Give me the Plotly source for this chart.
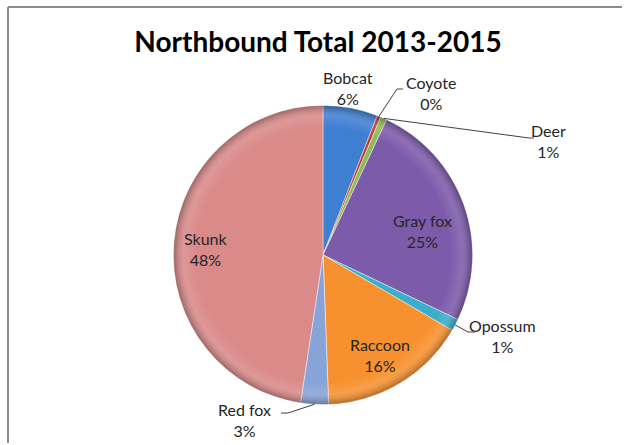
import base64
import math
import plotly.graph_objects as go

# Northbound roadkill totals, 2013-2015 (share of all records, %)
species = ["Bobcat", "Coyote", "Deer", "Gray fox", "Opossum", "Raccoon", "Red fox", "Skunk"]
shares = [5.9, 0.4, 0.7, 25.1, 1.3, 16.0, 3.0, 47.6]
colors = ["#3f7fd2", "#c0392f", "#8fba55", "#7d5bab", "#3aaecb", "#f7912f", "#87a3d8", "#d98a89"]

W, H = 624, 445
CX, CY, R = 323.0, 255.0, 149.5  # pie centre and radius in pixels

# label block centres (pixels) and leader-line bends for the outside labels
label_xy = {
    "Bobcat": (348, 88), "Coyote": (431, 93), "Deer": (548, 141),
    "Gray fox": (422, 231), "Opossum": (502, 336), "Raccoon": (380, 355),
    "Red fox": (244, 420), "Skunk": (206, 249),
}
leader_bends = {
    "Coyote": [(397, 89), (403, 89)],
    "Deer": [(529, 138), (534, 138)],
    "Opossum": [(468, 332), (475, 332)],
    "Red fox": [(288, 413), (281, 413)],
}


def px(x):
    return x / W


def py(y):
    return 1 - y / H


fig = go.Figure(go.Pie(
    labels=species,
    values=shares,
    sort=False,
    direction="clockwise",
    rotation=0,
    marker=dict(colors=colors, line=dict(color="rgba(255,255,255,0.55)", width=0.8)),
    textinfo="none",
    hoverinfo="label+percent",
    domain=dict(x=[px(CX - R), px(CX + R)], y=[py(CY + R), py(CY - R)]),
    showlegend=False,
))

total = sum(shares)
annotations = []
shapes = []
cum = 0.0
for name, v in zip(species, shares):
    mid = (cum + v / 2) / total * 2 * math.pi
    cum += v
    tx, ty = label_xy[name]
    annotations.append(dict(
        x=px(tx), y=py(ty), xref="paper", yref="paper", showarrow=False,
        text=f"{name}<br>{round(v / total * 100)}%",
        font=dict(family="Lato", size=16, color="#262626"),
        xanchor="center", yanchor="middle", align="center",
    ))
    if name in leader_bends:
        ex, ey = CX + R * math.sin(mid), CY - R * math.cos(mid)
        pts = [(ex, ey)] + leader_bends[name]
        path = "M " + " L ".join(f"{px(x)},{py(y)}" for x, y in pts)
        shapes.append(dict(type="path", xref="paper", yref="paper", path=path,
                           line=dict(color="#404040", width=1)))

# chart-area frame: top and left edges, kept inside the page bounds
shapes.append(dict(type="line", xref="paper", yref="paper",
                   x0=px(8), x1=px(622), y0=py(7), y1=py(7),
                   line=dict(color="#8c8c8c", width=2)))
shapes.append(dict(type="line", xref="paper", yref="paper",
                   x0=px(8), x1=px(8), y0=py(7), y1=py(443),
                   line=dict(color="#8c8c8c", width=2)))

# soft bevel shading over the pie
svg = (
    '<svg xmlns="http://www.w3.org/2000/svg" width="300" height="300" viewBox="0 0 300 300">'
    '<defs><radialGradient id="g" cx="50%" cy="50%" r="50%">'
    '<stop offset="0%" stop-color="#ffffff" stop-opacity="0"/>'
    '<stop offset="85%" stop-color="#ffffff" stop-opacity="0"/>'
    '<stop offset="93%" stop-color="#ffffff" stop-opacity="0.12"/>'
    '<stop offset="100%" stop-color="#000000" stop-opacity="0.28"/>'
    '</radialGradient></defs>'
    '<circle cx="150" cy="150" r="150" fill="url(#g)"/></svg>'
)
img_src = "data:image/svg+xml;base64," + base64.b64encode(svg.encode()).decode()

fig.update_layout(
    width=W, height=H,
    margin=dict(l=0, r=0, t=0, b=0),
    paper_bgcolor="white",
    title=dict(text="<b>Northbound Total 2013-2015</b>", x=px(318), y=py(42),
               xanchor="center", yanchor="middle",
               font=dict(family="Lato", size=28, color="#000000")),
    annotations=annotations,
    shapes=shapes,
    images=[dict(source=img_src, xref="paper", yref="paper",
                 x=px(CX - R), y=py(CY - R), sizex=2 * R / W, sizey=2 * R / H,
                 xanchor="left", yanchor="top", sizing="stretch", layer="above")],
)

fig.write_html("out.html", config={"displayModeBar": False})
